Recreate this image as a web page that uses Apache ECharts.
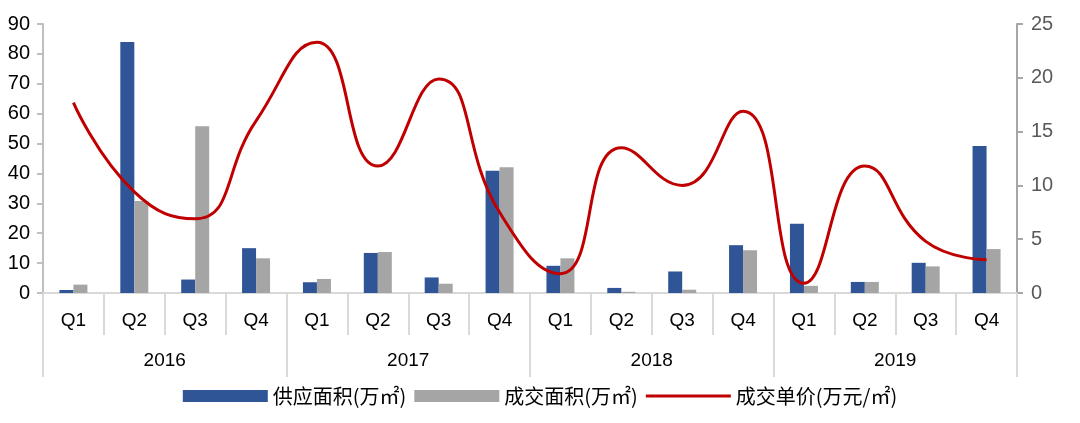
<!DOCTYPE html>
<html>
<head>
<meta charset="utf-8">
<title>供应面积 / 成交面积 / 成交单价</title>
<script src="https://cdn.jsdelivr.net/npm/echarts@6/dist/echarts.min.js"></script>
<style>
  html, body { margin: 0; padding: 0; background: #fff; }
  #main { width: 1080px; height: 423px; }
</style>
</head>
<body>
<div id="main"></div>
<script>
// 横轴：季度 + 年份
var quarters = ['Q1', 'Q2', 'Q3', 'Q4', 'Q1', 'Q2', 'Q3', 'Q4', 'Q1', 'Q2', 'Q3', 'Q4', 'Q1', 'Q2', 'Q3', 'Q4'];
var years = ['2016', '2017', '2018', '2019'];

// 供应面积(万㎡)
var supply = [1, 84, 4.5, 15, 3.6, 13.4, 5.2, 40.9, 9.1, 1.7, 7.2, 16, 23.2, 3.7, 10.1, 49.2];
// 成交面积(万㎡)
var deal = [2.8, 30.8, 55.8, 11.6, 4.7, 13.7, 3.1, 42.1, 11.6, 0.4, 1.1, 14.3, 2.4, 3.7, 8.9, 14.7];
// 成交单价(万元/㎡)
var price = [17.7, 9.4, 6.9, 16, 23.3, 11.8, 19.9, 7.5, 1.8, 13.5, 10, 16.9, 0.9, 11.8, 4.8, 3.1];

var leftTicks = { min: 0, max: 90, interval: 10 };
var rightTicks = { min: 0, max: 25, interval: 5 };

var FONT = 'Liberation Sans, Arial, Noto Sans CJK SC, sans-serif';
var CJK = 'Noto Sans CJK SC, Liberation Sans, sans-serif';

var chart = echarts.init(document.getElementById('main'));

chart.setOption({
  animation: false,
  backgroundColor: '#fff',
  textStyle: { fontFamily: FONT },
  grid: {
    left: 43,
    right: 63,
    top: 24,
    bottom: 130
  },
  legend: {
    left: 'center',
    top: 381,
    itemWidth: 85,
    itemHeight: 12,
    itemGap: 8,
    textStyle: { fontFamily: CJK, fontSize: 20, color: '#000' },
    data: [
      { name: '供应面积(万㎡)', icon: 'rect' },
      { name: '成交面积(万㎡)', icon: 'rect' },
      { name: '成交单价(万元/㎡)', icon: 'path://M0,0H85V3H0Z' }
    ]
  },
  xAxis: [{
    type: 'category',
    data: quarters,
    boundaryGap: true,
    axisLine: { lineStyle: { color: '#d9d9d9', width: 2 } },
    axisTick: { show: true, interval: 0, length: 42, lineStyle: { color: '#d9d9d9', width: 2 } },
    axisLabel: { interval: 0, margin: 18, fontSize: 19, color: '#000' }
  }, {
    // 年份一层
    type: 'category',
    data: years,
    position: 'bottom',
    boundaryGap: true,
    axisLine: { show: false },
    axisTick: { show: true, interval: 0, length: 84, lineStyle: { color: '#d9d9d9', width: 2 } },
    axisLabel: { interval: 0, margin: 58, fontSize: 19, color: '#000' }
  }],
  yAxis: [{
    type: 'value',
    min: leftTicks.min,
    max: leftTicks.max,
    interval: leftTicks.interval,
    splitLine: { show: false },
    axisLine: { show: true, lineStyle: { color: '#bfbfbf', width: 2 } },
    axisTick: { show: true, length: 6, lineStyle: { color: '#bfbfbf', width: 2 } },
    axisLabel: { fontSize: 20, color: '#000', margin: 13 }
  }, {
    type: 'value',
    position: 'right',
    min: rightTicks.min,
    max: rightTicks.max,
    interval: rightTicks.interval,
    splitLine: { show: false },
    axisLine: { show: true, lineStyle: { color: '#a6a6a6', width: 2 } },
    axisTick: { show: true, length: 6, lineStyle: { color: '#a6a6a6', width: 2 } },
    axisLabel: { fontSize: 20, color: '#595959', margin: 14 }
  }],
  series: [{
    name: '供应面积(万㎡)',
    type: 'bar',
    xAxisIndex: 0,
    yAxisIndex: 0,
    barWidth: 14,
    barGap: '0%',
    itemStyle: { color: '#2f5597' },
    data: supply
  }, {
    name: '成交面积(万㎡)',
    type: 'bar',
    xAxisIndex: 0,
    yAxisIndex: 0,
    barWidth: 14,
    barGap: '0%',
    itemStyle: { color: '#a5a5a5' },
    data: deal
  }, {
    name: '成交单价(万元/㎡)',
    type: 'line',
    xAxisIndex: 0,
    yAxisIndex: 1,
    smooth: true,
    symbol: 'none',
    lineStyle: { color: '#c00000', width: 3 },
    itemStyle: { color: '#c00000' },
    data: price
  }]
});
</script>
</body>
</html>
